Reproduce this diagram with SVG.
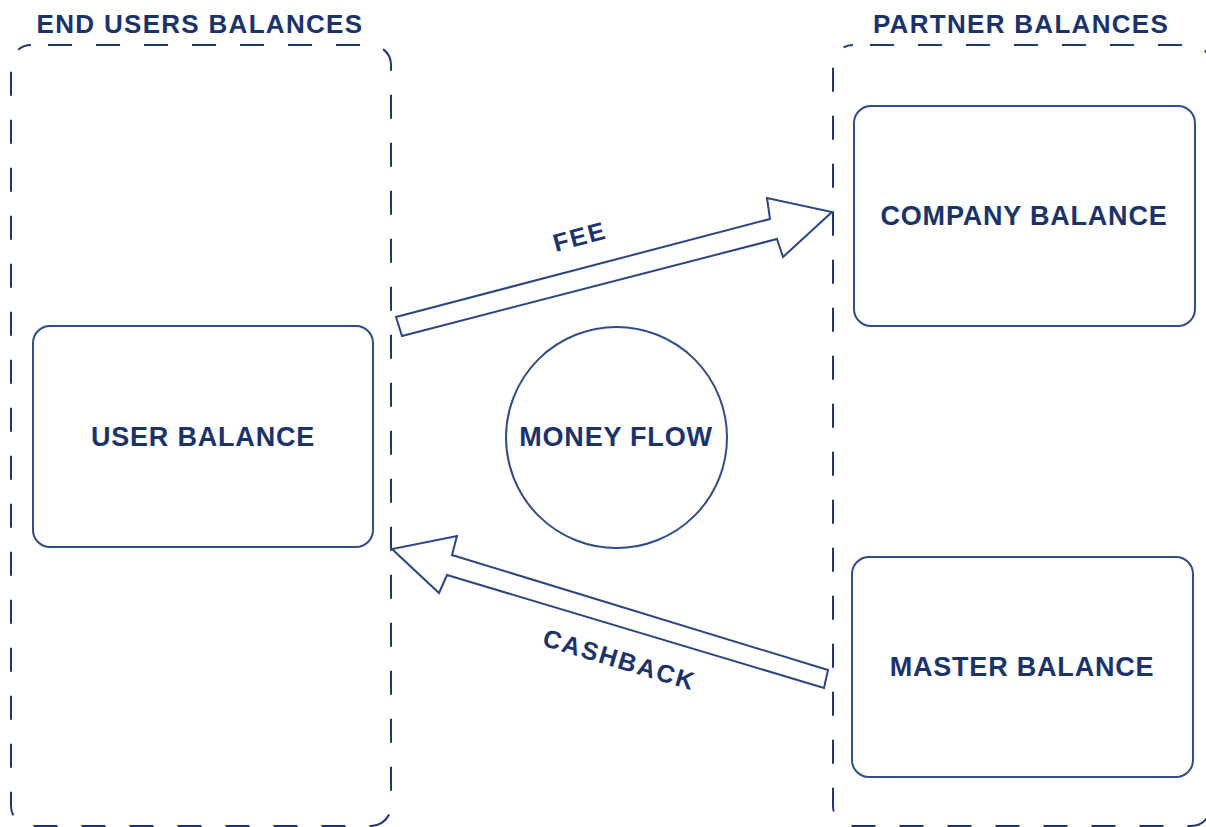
<svg xmlns="http://www.w3.org/2000/svg" width="1206" height="827" viewBox="0 0 1206 827">
<style>
.cont{fill:none;stroke:#1e3770;stroke-width:2;stroke-dasharray:24 24;stroke-dashoffset:31}
.box{fill:#ffffff;stroke:#2f4d8a;stroke-width:2}
.arr{fill:#ffffff;stroke:#2a4682;stroke-width:2;stroke-linejoin:miter}
.t{font-family:"Liberation Sans",Arial,sans-serif;font-weight:bold;fill:#1b336b;text-anchor:middle}
.title{font-size:26px;letter-spacing:1.3px}
.lbl{font-size:27px;letter-spacing:0.8px}
.al{font-size:25px;letter-spacing:1.9px}
</style>
<rect width="1206" height="827" fill="#ffffff"/>
<g id="end-users">
<rect class="cont" x="11" y="45" width="380" height="781" rx="20"/>
<text class="t title" x="200" y="33">END USERS BALANCES</text>
</g>
<g id="partners">
<rect class="cont" x="833" y="45" width="378" height="781" rx="20"/>
<text class="t title" x="1021" y="33">PARTNER BALANCES</text>
</g>
<g id="user-balance">
<rect class="box" x="33" y="326" width="340" height="221" rx="17"/>
<text class="t lbl" x="203" y="446">USER BALANCE</text>
</g>
<g id="company-balance">
<rect class="box" x="854" y="106" width="341" height="220" rx="17"/>
<text class="t lbl" x="1024" y="225">COMPANY BALANCE</text>
</g>
<g id="master-balance">
<rect class="box" x="852" y="557" width="341" height="220" rx="17"/>
<text class="t lbl" x="1022" y="676">MASTER BALANCE</text>
</g>
<g id="money-flow">
<circle class="box" cx="616.5" cy="437.5" r="110.5"/>
<text class="t lbl" x="616" y="446">MONEY FLOW</text>
</g>
<g id="connectors">
<g id="fee">
<polygon class="arr" points="396,317 770,219 767,198 832,212 783,257 777,239 402,336"/>
<text class="t al" x="0" y="0" transform="translate(582,245) rotate(-15)">FEE</text>
</g>
<g id="cashback">
<polygon class="arr" points="828,670 452,555 457,536 392,549 439,593 447,575 824,688"/>
<text class="t al" x="0" y="0" transform="translate(617,668) rotate(16.7)">CASHBACK</text>
</g>
</g>
</svg>
